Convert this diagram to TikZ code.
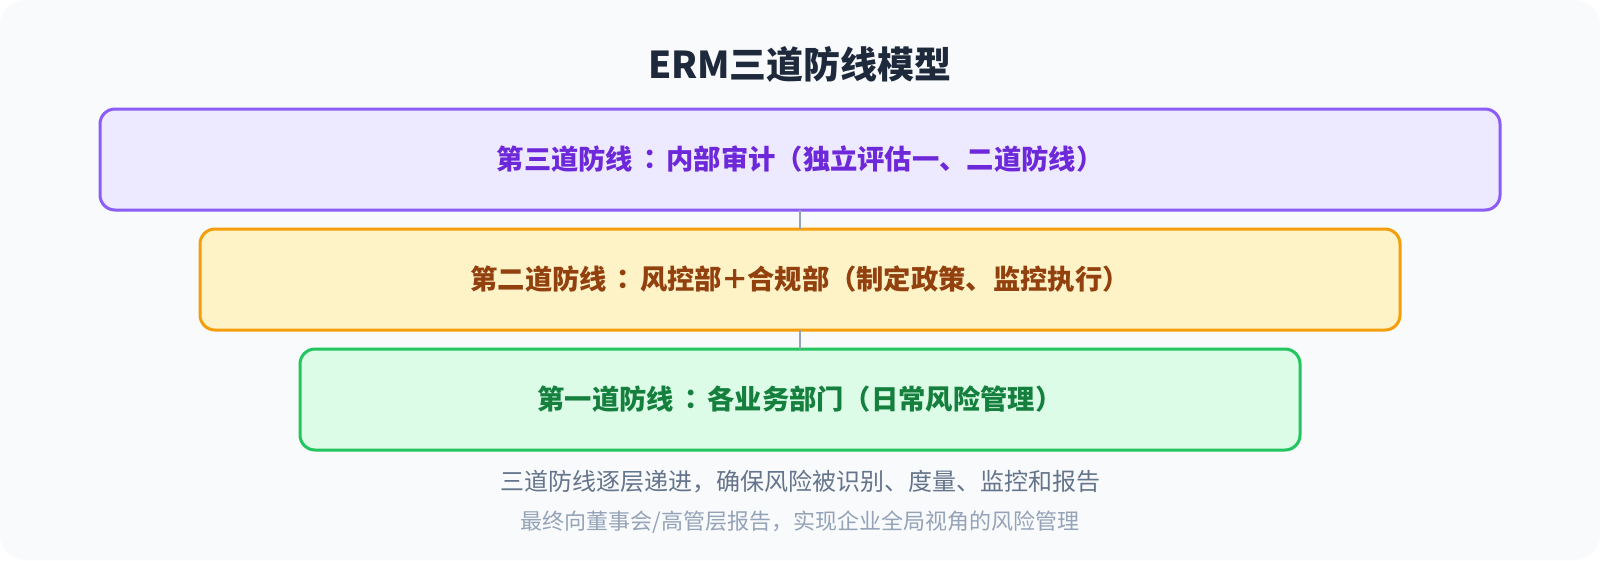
\documentclass[tikz,border=0pt]{standalone}
\usepackage{fontspec}
\setmainfont{Noto Sans CJK SC}
\newfontfamily\jpfont{Noto Sans CJK JP}
\newcommand{\jpcolon}{\kern3pt{\jpfont ：}\kern3pt}
\newcommand{\wideplus}{\kern-1pt＋\kern-1pt}
\definecolor{bgc}{HTML}{F8FAFC}
\definecolor{titlec}{HTML}{1E293B}
\definecolor{pstroke}{HTML}{8B5CF6}
\definecolor{pfill}{HTML}{EDE9FE}
\definecolor{ptext}{HTML}{6D28D9}
\definecolor{ostroke}{HTML}{F59E0B}
\definecolor{ofill}{HTML}{FEF3C7}
\definecolor{otext}{HTML}{92400E}
\definecolor{gstroke}{HTML}{22C55E}
\definecolor{gfill}{HTML}{DCFCE7}
\definecolor{gtext}{HTML}{15803D}
\definecolor{connc}{HTML}{94A3B8}
\definecolor{subone}{HTML}{64748B}
\definecolor{subtwo}{HTML}{94A3B8}
\begin{document}
\begin{tikzpicture}[x=1pt,y=-1pt,
  layerbox/.style={rectangle, rounded corners=15pt, line width=3pt, inner sep=0pt, outer sep=0pt, minimum height=101pt},
  layertext/.style={font=\fontsize{27.3}{32}\selectfont\bfseries},
  conn/.style={draw=connc, line width=2.8pt},
  plain/.style={inner sep=0pt, outer sep=0pt}
]
\useasboundingbox (0,0) rectangle (1600,560);
\fill[white] (0,0) rectangle (1600,560);
\fill[bgc, rounded corners=25pt] (0,0) rectangle (1600,560);
\node[plain, text=titlec, font=\fontsize{37}{42}\selectfont\bfseries] (title) at (800,64) {ERM三道防线模型};
\node[layerbox, draw=pstroke, fill=pfill, minimum width=1400pt] (b3) at (800,159.5) {};
\node[layerbox, draw=ostroke, fill=ofill, minimum width=1200pt] (b2) at (800,279.5) {};
\node[layerbox, draw=gstroke, fill=gfill, minimum width=1000pt] (b1) at (800,399.5) {};
\node[plain, layertext, text=ptext] (t3) at (b3.center) {第三道防线\jpcolon 内部审计（独立评估一、二道防线）};
\node[plain, layertext, text=otext] (t2) at (b2.center) {第二道防线\jpcolon 风控部\wideplus 合规部（制定政策、监控执行）};
\node[plain, layertext, text=gtext] (t1) at (b1.center) {第一道防线\jpcolon 各业务部门（日常风险管理）};
\draw[conn] (b3.south) -- (b2.north);
\draw[conn] (b2.south) -- (b1.north);
\node[plain, text=subone, font=\fontsize{24}{28}\selectfont] (s1) at (800,482) {三道防线逐层递进，确保风险被识别、度量、监控和报告};
\node[plain, text=subtwo, font=\fontsize{22}{26}\selectfont] (s2) at (800,522) {最终向董事会/高管层报告，实现企业全局视角的风险管理};
\end{tikzpicture}
\end{document}
